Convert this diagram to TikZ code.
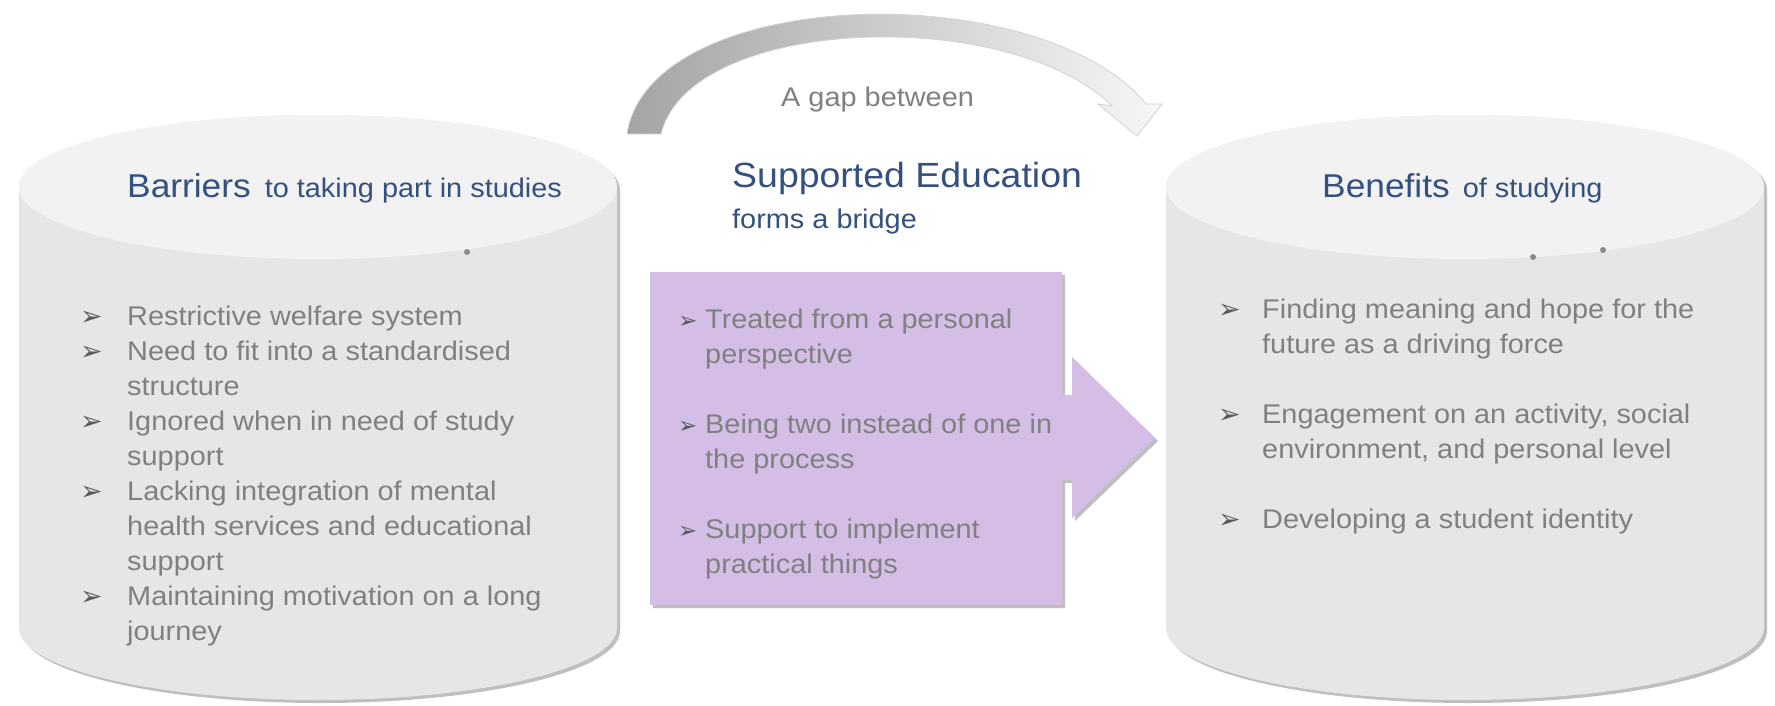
\documentclass[tikz,border=0pt]{standalone}
\usepackage{fontspec}
\setmainfont{Liberation Sans}[FakeStretch=1.07]
\newfontfamily\dejavu{DejaVu Sans}
\usetikzlibrary{shadows}
\definecolor{headblue}{HTML}{34507F}
\definecolor{txtgray}{HTML}{808080}
\definecolor{bulgray}{HTML}{5A5A5A}
\definecolor{cyltop}{HTML}{F2F2F2}
\definecolor{cylside}{HTML}{E6E6E6}
\definecolor{lav}{HTML}{D4BEE6}
\definecolor{dotgray}{HTML}{8C8C8C}
\definecolor{arcdark}{HTML}{A4A4A4}
\definecolor{arclight}{HTML}{F7F7F7}
\newcommand{\bul}[2]{\makebox[#1][l]{\dejavu\fontsize{#2}{#2}\selectfont\color{bulgray}➢}}
\begin{document}
\begin{tikzpicture}[x=1pt,y=-1pt,
  cylbody/.style={fill=cylside, drop shadow={shadow xshift=3pt, shadow yshift=-3pt, opacity=.45, fill=black!55}},
  cyltopface/.style={fill=cyltop},
  lavarrow/.style={fill=lav, drop shadow={shadow xshift=3pt, shadow yshift=-3pt, opacity=.45, fill=black!55}},
  gaparrow/.style={left color=arcdark, right color=arclight, draw=gray!35, line width=0.8pt},
  listtext/.style={anchor=base west, inner sep=0pt, text=txtgray, font=\fontsize{27}{35}\selectfont},
  heading/.style={anchor=base west, inner sep=0pt, text=headblue},
  dot/.style={fill=dotgray}]
\useasboundingbox (0,0) rectangle (1775,706);
\fill[white] (0,0) rectangle (1775,706);

% left cylinder
\path[cylbody] (19,187) -- (19,628) arc[start angle=180, end angle=0, x radius=299, y radius=72]
  -- (617,187) arc[start angle=0, end angle=-180, x radius=299, y radius=72] -- cycle;
\fill[cyltopface] (318,187) ellipse [x radius=299, y radius=72];
\fill[dot] (467,252) circle[radius=3];

% right cylinder
\path[cylbody] (1166,187) -- (1166,628) arc[start angle=180, end angle=0, x radius=299, y radius=72]
  -- (1764,187) arc[start angle=0, end angle=-180, x radius=299, y radius=72] -- cycle;
\fill[cyltopface] (1465,187) ellipse [x radius=299, y radius=72];
\fill[dot] (1533,257) circle[radius=3];
\fill[dot] (1603,250) circle[radius=3];

% curved gap arrow
\shadedraw[gaparrow] (627,134) .. controls (650,-15) and (1040,-25) .. (1146,104)
  -- (1162,104) -- (1137,136) -- (1098,104) -- (1112,106)
  .. controls (1010,5) and (690,15) .. (661,134) -- cycle;

% purple block arrow
\path[lavarrow] (650,272) -- (1062,272) -- (1062,395) -- (1072,395) -- (1072,357)
  -- (1155,438) -- (1072,518) -- (1072,480) -- (1062,480) -- (1062,605) -- (650,605) -- cycle;

% headings
\node[heading] (barriers) at (127,197) {\fontsize{33}{40}\selectfont Barriers\hspace{14pt}\fontsize{27}{32}\selectfont to taking part in studies};
\node[heading] (benefits) at (1322,197) {\fontsize{33}{40}\selectfont Benefits\hspace{13pt}\fontsize{27}{32}\selectfont of studying};
\node[anchor=base west, inner sep=0pt, text=txtgray, font=\fontsize{27}{32}\selectfont] (gap) at (781,107) {A gap between};
\node[heading, font=\fontsize{35}{40}\selectfont] (supported) at (732,187) {Supported Education};
\node[heading, font=\fontsize{27}{32}\selectfont] (bridge) at (732,228) {forms a bridge};

% lists
\node[listtext] (barrierlist) at (80,325) {\parbox[t]{560pt}{%
\bul{47pt}{27}Restrictive welfare system\\
\bul{47pt}{27}Need to fit into a standardised\\
\hspace*{47pt}structure\\
\bul{47pt}{27}Ignored when in need of study\\
\hspace*{47pt}support\\
\bul{47pt}{27}Lacking integration of mental\\
\hspace*{47pt}health services and educational\\
\hspace*{47pt}support\\
\bul{47pt}{27}Maintaining motivation on a long\\
\hspace*{47pt}journey}};

\node[listtext] (supportlist) at (678,328) {\parbox[t]{420pt}{%
\bul{27pt}{23}Treated from a personal\\
\hspace*{27pt}perspective\\[35pt]
\bul{27pt}{23}Being two instead of one in\\
\hspace*{27pt}the process\\[35pt]
\bul{27pt}{23}Support to implement\\
\hspace*{27pt}practical things}};

\node[listtext] (benefitlist) at (1218,318) {\parbox[t]{540pt}{%
\bul{44pt}{27}Finding meaning and hope for the\\
\hspace*{44pt}future as a driving force\\[35pt]
\bul{44pt}{27}Engagement on an activity, social\\
\hspace*{44pt}environment, and personal level\\[35pt]
\bul{44pt}{27}Developing a student identity}};
\end{tikzpicture}
\end{document}
